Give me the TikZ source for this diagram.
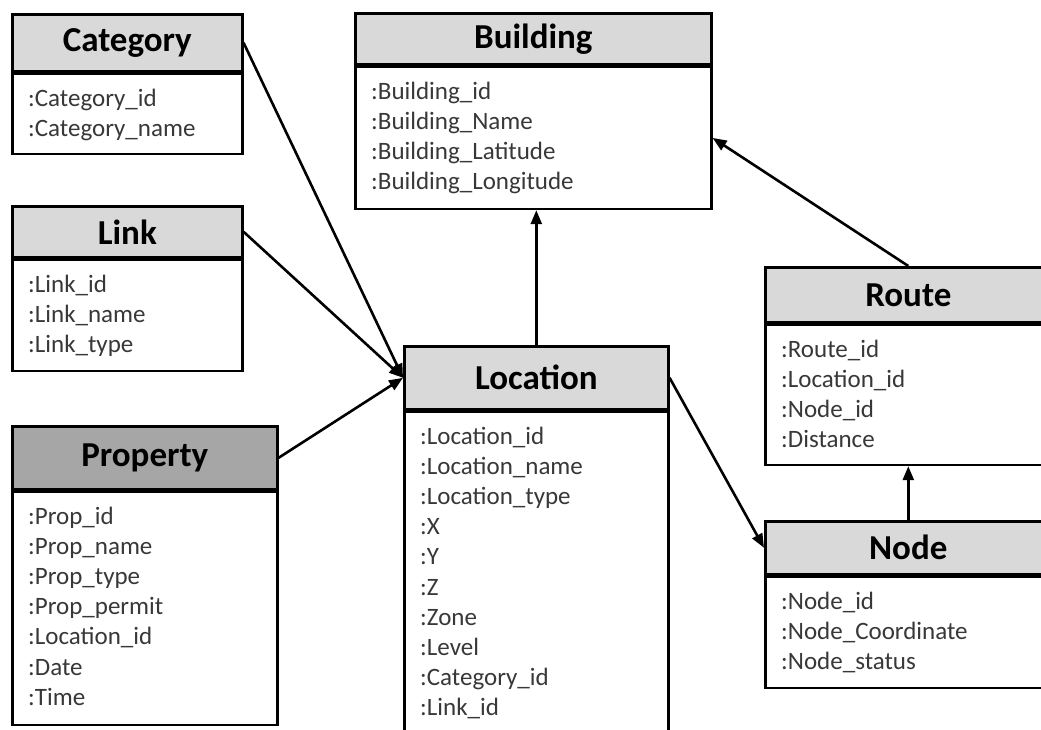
\documentclass[tikz,border=0pt]{standalone}
\usepackage{fontspec}
\setmainfont{Carlito}
\usetikzlibrary{arrows.meta}
\definecolor{hdrgray}{HTML}{D9D9D9}
\definecolor{hdrdark}{HTML}{A6A6A6}
\definecolor{attrtext}{HTML}{383838}
\tikzset{
  boxline/.style={draw=black, line width=2.6pt},
  hdr/.style={boxline, fill=hdrgray, anchor=north west, inner sep=0pt,
    font=\fontsize{35}{40}\selectfont\bfseries, text=black},
  bodybox/.style={boxline, fill=white, anchor=north west, inner sep=0pt},
  attr/.style={anchor=north west, inner sep=0pt, align=left, text=attrtext,
    font=\fontsize{25}{30.2}\selectfont},
  arr/.style={line width=2.6pt, -{Triangle[length=14pt,width=11pt]}},
}
% \entity{name}{x}{y}{width}{header height}{body height}{title}{attributes}{header fill}
\newcommand{\entity}[9]{%
  \node[hdr, fill=#9, minimum width=#4pt, minimum height=#5pt] (#1-h) at (#2,#3) {#7};
  \node[bodybox, minimum width=#4pt, minimum height=#6pt] (#1-b) at (#1-h.south west) {};
  \node[attr, xshift=17pt, yshift=-16pt] at (#1-h.south west) {#8};
}
\begin{document}
\begin{tikzpicture}[x=1pt,y=-1pt]
\useasboundingbox (0,0) rectangle (1041,729);
\clip (0,0) rectangle (1041,729);
\fill[white] (0,0) rectangle (1041,729);

\entity{cat}{11}{13}{230}{57}{80}{Category}{:Category\_id\\:Category\_name}{hdrgray}
\entity{bld}{354}{12}{356}{51}{142}{Building}{:Building\_id\\:Building\_Name\\:Building\_Latitude\\:Building\_Longitude}{hdrgray}
\entity{link}{11}{205}{230}{51}{111}{Link}{:Link\_id\\:Link\_name\\:Link\_type}{hdrgray}
\entity{prop}{11}{425}{265}{63}{233}{Property}{:Prop\_id\\:Prop\_name\\:Prop\_type\\:Prop\_permit\\:Location\_id\\:Date\\:Time}{hdrdark}
\entity{loc}{403}{345}{264}{63}{360}{Location}{:Location\_id\\:Location\_name\\:Location\_type\\:X\\:Y\\:Z\\:Zone\\:Level\\:Category\_id\\:Link\_id}{hdrgray}
\entity{route}{764}{266}{286}{55}{140}{Route}{:Route\_id\\:Location\_id\\:Node\_id\\:Distance}{hdrgray}
\entity{node}{764}{520}{286}{53}{111}{Node}{:Node\_id\\:Node\_Coordinate\\:Node\_status}{hdrgray}

% relations
\draw[arr] (cat-h.east) -- (loc-h.west);
\draw[arr] (link-h.east) -- (loc-h.west);
\draw[arr] (prop-h.east) -- (loc-h.west);
\draw[arr] (loc-h.north) -- (loc-h.north |- bld-b.south);
\draw[arr] (route-h.north) -- (bld-b.east);
\draw[arr] (loc-h.east) -- (node-h.west);
\draw[arr] (node-h.north) -- (route-b.south);
\end{tikzpicture}
\end{document}
